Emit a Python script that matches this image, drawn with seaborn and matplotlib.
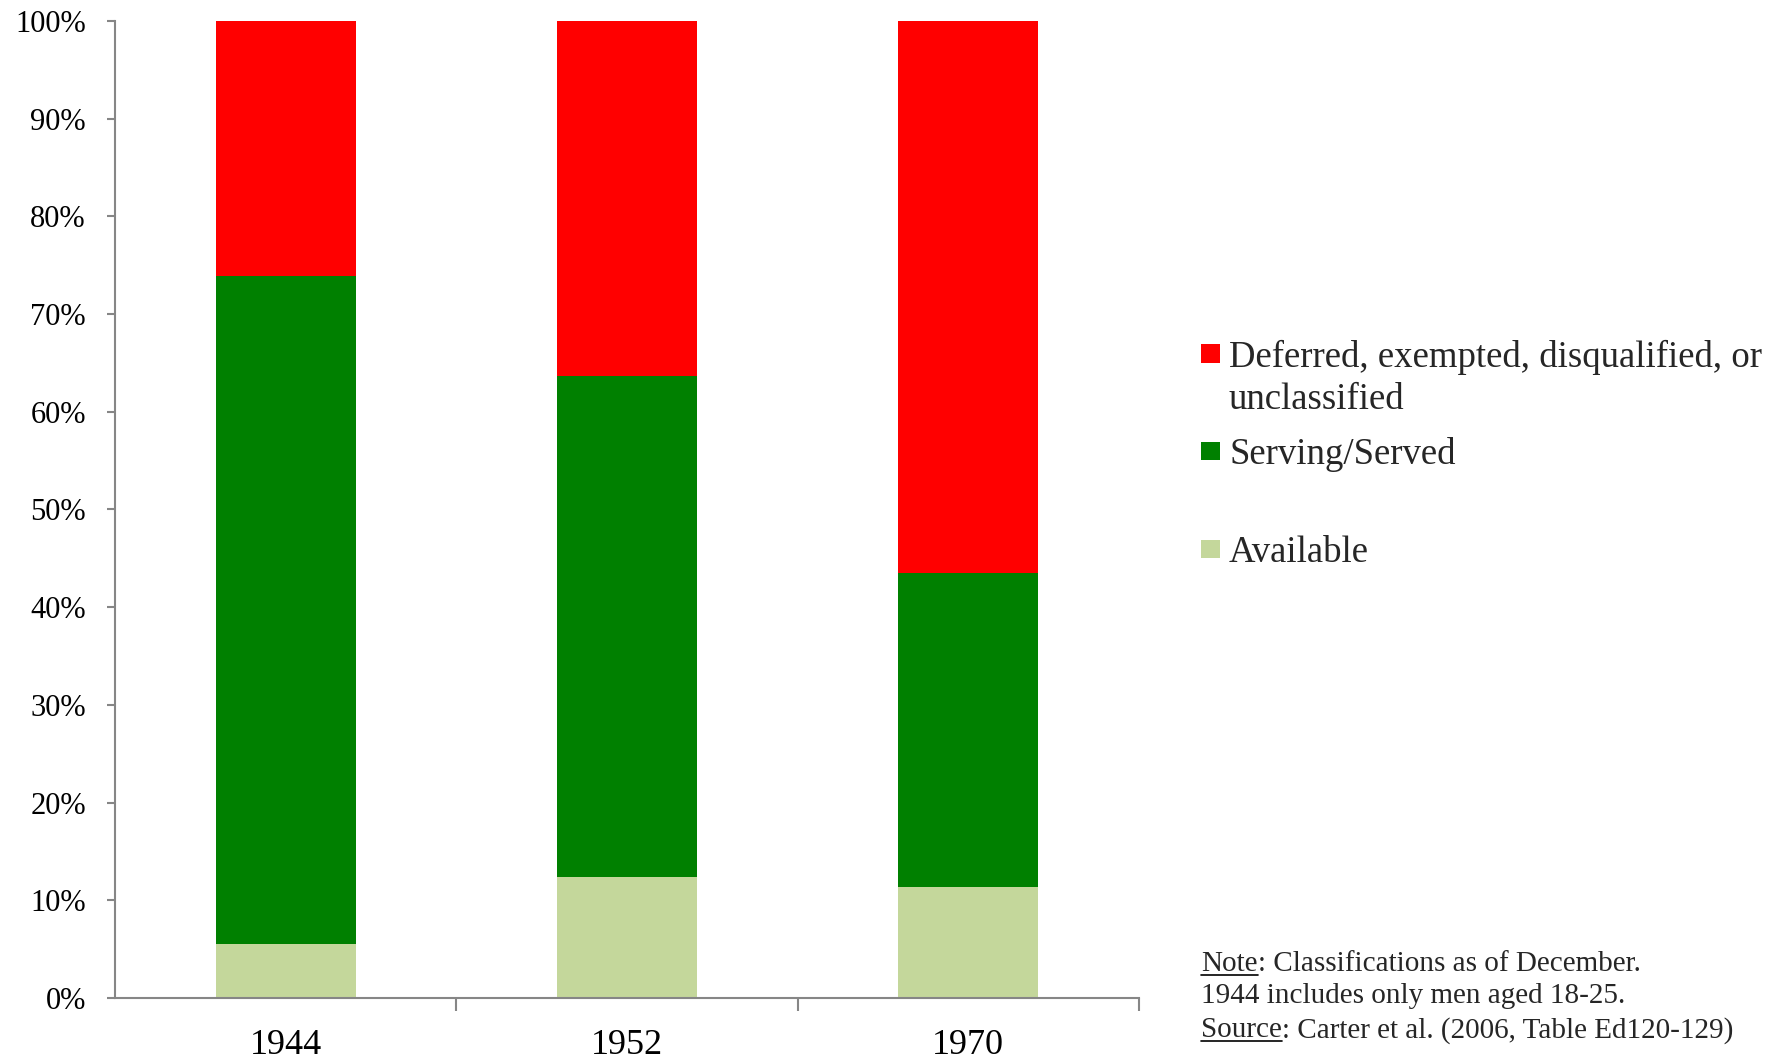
import matplotlib
matplotlib.use("Agg")
import matplotlib.pyplot as plt
import matplotlib.lines as mlines
import matplotlib.patches as mpatches
import numpy as np
import pandas as pd
import seaborn as sns

# Draft classification shares (percent of registrants)
years = ["1944", "1952", "1970"]
available = [5.5, 12.4, 11.4]
serving = [68.4, 51.3, 32.1]
deferred = [26.1, 36.3, 56.5]

labels = ["Deferred, exempted, disqualified, or\nunclassified", "Serving/Served", "Available"]
colors = ["#FF0000", "#008000", "#C4D79B"]
y_ticks = list(range(0, 101, 10))

sns.set_theme(style="white")
plt.rcParams["font.family"] = ["Liberation Serif", "DejaVu Serif"]

fig = plt.figure(figsize=(17.88, 10.59), dpi=100)
ax = fig.add_axes([0.0643, 0.0576, 0.5727, 0.9226])

df = pd.DataFrame({"year": years,
                   "available": available,
                   "serving": serving,
                   "deferred": deferred})
df["top_avail"] = df["available"]
df["top_serv"] = df["available"] + df["serving"]
df["top_def"] = df["top_serv"] + df["deferred"]

# Stacked bars: draw cumulative totals back to front
for col, color in [("top_def", colors[0]), ("top_serv", colors[1]), ("top_avail", colors[2])]:
    sns.barplot(data=df, x="year", y=col, color=color, width=0.41,
                saturation=1, linewidth=0, ax=ax)

ax.set_xlim(-0.5, 2.5)
ax.set_ylim(0, 100)
ax.set_xlabel("")
ax.set_ylabel("")
ax.set_yticks(y_ticks)
ax.set_yticklabels([f"{v}%" for v in y_ticks])

spine_color = "#868686"
for side in ["top", "right"]:
    ax.spines[side].set_visible(False)
for side in ["left", "bottom"]:
    ax.spines[side].set_color(spine_color)
    ax.spines[side].set_linewidth(1.5)

ax.tick_params(axis="y", which="major", left=True, length=6, width=1.5,
               color=spine_color, labelsize=22, pad=15, labelcolor="black")
ax.set_xticks([0, 1, 2])
ax.set_xticklabels(years)
ax.tick_params(axis="x", which="major", bottom=False, length=0,
               labelsize=26, pad=22, labelcolor="black")
ax.set_xticks([0.5, 1.5, 2.5], minor=True)
ax.tick_params(axis="x", which="minor", bottom=True, length=9, width=1.5,
               color=spine_color, direction="out")

# Legend drawn as swatches plus text in figure pixels
W, H = 1788, 1059

def fx(px):
    return px / W

def fy(py):
    return 1 - py / H

legend_fs = 26.5
swatches = [(344, 363, 355, labels[0]), (442, 460, 452, labels[1]), (540, 558, 550, labels[2])]
for (top, bot, cy, text), color in zip(swatches, colors):
    fig.patches.append(mpatches.Rectangle((fx(1201), fy(bot)), fx(1220) - fx(1201),
                                          fy(top) - fy(bot), transform=fig.transFigure,
                                          facecolor=color, edgecolor="none"))
    fig.text(fx(1229), fy(cy - 15), text,
             fontsize=legend_fs, va="top", ha="left", linespacing=1.27)

# Footnote with underlined lead words
note_fs = 21
renderer = fig.canvas.get_renderer()
note_lines = [("Note", ": Classifications as of December."),
              ("", "1944 includes only men aged 18-25."),
              ("Source", ": Carter et al. (2006, Table Ed120-129)")]
note_centers = [961, 993, 1027]
x0 = fx(1201)
for (lead, rest), cy in zip(note_lines, note_centers):
    y = fy(cy)
    xs = x0
    if lead:
        t = fig.text(xs, y, lead, fontsize=note_fs, va="center_baseline", ha="left")
        bb = t.get_window_extent(renderer=renderer)
        uy = (bb.y0 + 2) / H
        fig.add_artist(mlines.Line2D([bb.x0 / W, bb.x1 / W], [uy, uy],
                                     transform=fig.transFigure, color="black", linewidth=1.2))
        xs = bb.x1 / W
    fig.text(xs, y, rest, fontsize=note_fs, va="center_baseline", ha="left")

fig.savefig("out.png", dpi=100, facecolor="white")
